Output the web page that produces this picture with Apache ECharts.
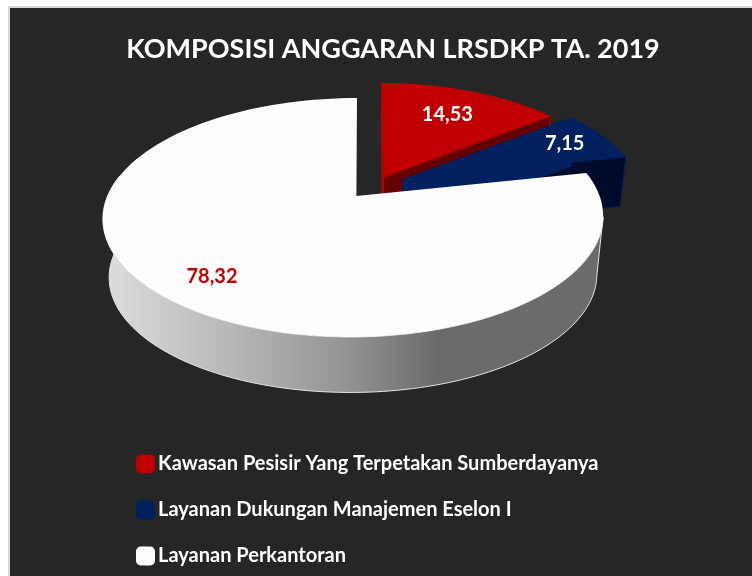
<!DOCTYPE html>
<html>
<head>
<meta charset="utf-8">
<style>html,body{margin:0;padding:0;background:#fff}#c{width:752px;height:576px}</style>
<script src="https://cdn.jsdelivr.net/npm/echarts@6/dist/echarts.min.js"></script>
</head>
<body>
<div id="c"></div>
<script>
var titleText = 'KOMPOSISI ANGGARAN LRSDKP TA. 2019';
var categories = ['Kawasan Pesisir Yang Terpetakan Sumberdayanya', 'Layanan Dukungan Manajemen Eselon I', 'Layanan Perkantoran'];
var values = [14.53, 7.15, 78.32];
var valueLabels = ['14,53', '7,15', '78,32'];

var topColors = ['#c00000', '#002060', '#fdfdfd'];
var wallColors = ['#640000', '#000b2c', null];
var labelColors = ['#ffffff', '#ffffff', '#c00000'];

// Layout of each exploded wedge: apex position, rim scale, lean and label radius
var wedgeLayout = [
  {cx: 384, cy: 177, scale: 0.96, lean: -3, apexDx: 0, labelR: 0.70, depth: 46},
  {cx: 403, cy: 179, scale: 0.96, lean: 0, apexDx: 0, labelR: 0.80, depth: 49},
  {cx: 353, cy: 196, scale: 1, lean: 4, apexDx: 3.4, labelR: 0.80, depth: 59}
];
// Perspective of the tilted disc
var A = 246, B = 115.6, K = 0.18, WALL_SHRINK = 0.975;

var total = values.reduce(function (a, b) { return a + b; }, 0);

function project(L, angle, r, down) {
  var u = Math.sin(angle) * r, v = Math.cos(angle) * r;
  var w = 1 + K * v;
  var s = L.scale * (down ? WALL_SHRINK : 1);
  return [
    L.cx + s * A * u / w + L.lean * (v + K) / (1 + K),
    L.cy + (down ? L.depth : 0) - s * B * v / w
  ];
}
function arc(L, a0, a1, down) {
  var pts = [], n = 120;
  for (var i = 0; i <= n; i++) pts.push(project(L, a0 + (a1 - a0) * i / n, 1, down));
  return pts;
}

function makeRender(idx) {
  return function (params, api) {
    var before = 0;
    for (var i = 0; i < idx; i++) before += values[i];
    var a0 = before / total * Math.PI * 2;
    var a1 = (before + api.value(0)) / total * Math.PI * 2;
    var L = wedgeLayout[idx];
    var apex = [L.cx + L.apexDx, L.cy];
    var children = [];

    if (wallColors[idx]) {
      // cut face of an exploded wedge at its clockwise end
      var tip = project(L, a1, 1, false), tipD = project(L, a1, 1, true);
      children.push({
        type: 'polygon',
        shape: {points: [apex, tip, tipD, [apex[0] - 2, apex[1] + L.depth]]},
        style: {fill: wallColors[idx], stroke: topColors[idx], lineWidth: 1}
      });
      // short left-hand cut face under the apex
      var first = project(L, a0, 1, false);
      children.push({
        type: 'polygon',
        shape: {points: [first, apex, [apex[0] - 2, apex[1] + L.depth], [first[0], first[1] + L.depth]]},
        style: {fill: topColors[idx]}
      });
    } else {
      // outer wall of the big slice: from its left extreme around the front to the right extreme
      var s0 = 100 / 180 * Math.PI, s1 = 280 / 180 * Math.PI;
      var upper = arc(L, s0, s1, false), lower = arc(L, s0, s1, true);
      children.push({
        type: 'polygon',
        shape: {points: upper.concat(lower.reverse())},
        style: {
          fill: {
            type: 'linear', x: 1, y: 0, x2: 0, y2: 0,
            colorStops: [
              {offset: 0, color: '#6c6c6c'},
              {offset: 0.33, color: '#6a6a6a'},
              {offset: 0.52, color: '#959595'},
              {offset: 1, color: '#dedede'}
            ]
          },
          stroke: '#e4e4e4', lineWidth: 1
        }
      });
    }

    children.push({
      type: 'polygon',
      shape: {points: [apex].concat(arc(L, a0, a1, false))},
      style: {fill: topColors[idx]}
    });

    var mid = (a0 + a1) / 2;
    var lp = project(L, mid, L.labelR, false);
    children.push({
      type: 'text',
      z2: 10,
      style: {
        text: valueLabels[idx], x: lp[0], y: lp[1],
        fill: labelColors[idx], align: 'center', verticalAlign: 'middle',
        font: 'bold 20px Lato, sans-serif'
      }
    });
    return {type: 'group', children: children};
  };
}

var chart = echarts.init(document.getElementById('c'), null, {renderer: 'canvas'});
chart.setOption({
  animation: false,
  backgroundColor: '#ffffff',
  graphic: [{
    type: 'rect', z: -10, silent: true,
    shape: {x: 9, y: 7, width: 750, height: 576},
    style: {fill: '#262626', stroke: '#d8d8d8', lineWidth: 2}
  }],
  title: {
    text: titleText, left: 388, top: 31, textAlign: 'center',
    textStyle: {color: '#ffffff', fontFamily: 'Lato', fontWeight: 'bold', fontSize: 27}
  },
  legend: {
    orient: 'vertical', left: 131, top: 449,
    icon: 'roundRect', itemWidth: 19, itemHeight: 19, itemGap: 26,
    selectedMode: false,
    data: categories,
    textStyle: {color: '#ffffff', fontFamily: 'Lato', fontWeight: 'bold', fontSize: 20, padding: [0, 0, 0, -2]}
  },
  series: categories.map(function (name, i) {
    return {
      type: 'custom', name: name, coordinateSystem: 'none',
      itemStyle: {color: topColors[i]},
      renderItem: makeRender(i),
      data: [[values[i]]],
      silent: true
    };
  })
});
</script>
</body>
</html>
